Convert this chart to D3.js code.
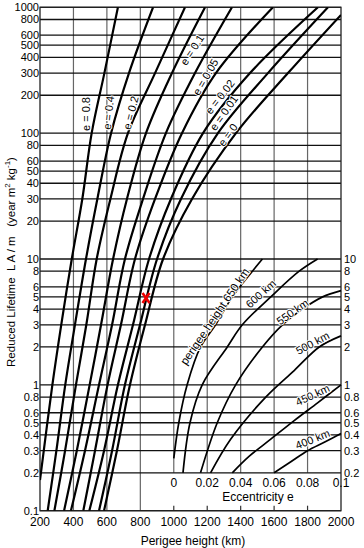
<!DOCTYPE html>
<html>
<head>
<meta charset="utf-8">
<script src="https://cdn.jsdelivr.net/npm/d3@7"></script>
<style>
body { margin: 0; background: #fff; }
text { font-family: "Liberation Sans", Arial, sans-serif; fill: #000; }
</style>
</head>
<body>
<svg id="chart" width="364" height="548"></svg>
<script>
// tick values
var lifeTicks = [1000, 800, 600, 500, 400, 300, 200, 100, 80, 60, 50, 40, 30, 20, 10, 8, 6, 5, 4, 3, 2, 1, 0.8, 0.6, 0.5, 0.4, 0.3, 0.2, 0.1];
var heightTicks = [200, 400, 600, 800, 1000, 1200, 1400, 1600, 1800, 2000];
var insetLifeTicks = [10, 8, 6, 5, 4, 3, 2, 1, 0.8, 0.6, 0.5, 0.4, 0.3, 0.2];
var eccTicks = [0, 0.02, 0.04, 0.06, 0.08, 0.1];

// main curves: [perigee height km, reduced lifetime]
var ecc08 = [[200, 0.175], [274, 1], [327, 3], [390, 10], [453, 30], [509, 100], [585, 300], [666, 1000]];
var ecc04 = [[246, 0.1], [298, 0.3], [351, 1], [409, 3], [475, 10], [543, 30], [625, 100], [732, 300], [876, 1000]];
var ecc02 = [[286, 0.1], [350, 0.3], [415, 1], [477, 3], [539, 10], [621, 30], [726, 100], [888, 300], [1067, 1000]];
var eccX = [[344, 0.1], [420, 0.3], [497, 1], [565, 3], [637, 10], [720, 30], [834, 100], [989, 300], [1187, 1000]];
var ecc01 = [[385, 0.1], [469, 0.3], [553, 1], [631, 3], [708, 10], [816, 30], [953, 100], [1127, 300], [1348, 1000]];
var ecc005 = [[459, 0.1], [529, 0.3], [604, 1], [684, 3], [768, 10], [888, 30], [1049, 100], [1252, 300], [1593, 1000]];
var ecc002 = [[495, 0.1], [583, 0.3], [666, 1], [756, 3], [852, 10], [983, 30], [1175, 100], [1456, 300], [1862, 1000]];
var ecc001 = [[553, 0.1], [631, 0.3], [708, 1], [798, 3], [900, 10], [1043, 30], [1264, 100], [1563, 300], [1922, 1000]];
var ecc0 = [[583, 0.1], [660, 0.3], [738, 1], [828, 3], [936, 10], [1109, 30], [1372, 100], [1683, 300], [2000, 870]];

// labels for the main curves: [text, height, lifetime, angle]
var eccLabels = [["e = 0.8", 475, 142, -90], ["e = 0.4", 610, 145, -84], ["e = 0.2", 744, 145, -76],
  ["e = 0.1", 1110, 458, -57], ["e = 0.05", 1190, 279, -60], ["e = 0.02", 1276, 194, -52],
  ["e = 0.01", 1300, 145, -55], ["e = 0", 1324, 97, -55]];

// inset curves: [eccentricity, reduced lifetime]
var per650 = [[0, 0.26], [0.003, 0.5], [0.008, 1], [0.016, 2], [0.025, 3], [0.035, 5], [0.047, 8], [0.053, 10]];
var per600 = [[0.0055, 0.2], [0.0097, 0.5], [0.017, 1], [0.032, 2], [0.041, 3], [0.058, 5], [0.075, 8], [0.086, 10]];
var per550 = [[0.016, 0.2], [0.026, 0.5], [0.037, 1], [0.053, 2], [0.065, 3], [0.077, 4], [0.089, 5], [0.1, 5.6]];
var per500 = [[0.022, 0.2], [0.034, 0.37], [0.055, 0.8], [0.072, 1.3], [0.087, 2], [0.1, 2.45]];
var per450 = [[0.035, 0.2], [0.045, 0.27], [0.058, 0.37], [0.072, 0.52], [0.086, 0.72], [0.1, 1.0]];
var per400 = [[0.06, 0.2], [0.07, 0.245], [0.08, 0.3], [0.09, 0.35], [0.1, 0.41]];

var perLabels = [["perigee height 650 km", 0.0245, 3.5, -56], ["600 km", 0.052, 5.3, -42], ["550 km", 0.071, 3.8, -35],
  ["500 km", 0.083, 2.15, -28], ["450 km", 0.083, 0.83, -25], ["400 km", 0.083, 0.37, -22]];

var marker = [834, 4.9];

var svg = d3.select("#chart");
var x = d3.scaleLinear().domain([200, 2000]).range([40, 341]);
var y = d3.scaleLog().domain([0.1, 1000]).range([510.7, 7.3]);
var xe = d3.scaleLinear().domain([0, 0.1]).range([x(1000), x(2000)]);

svg.append("rect").attr("width", 364).attr("height", 548).attr("fill", "#fff");

svg.append("clipPath").attr("id", "plot")
  .append("rect").attr("x", x(200)).attr("y", y(1000))
  .attr("width", x(2000) - x(200)).attr("height", y(0.1) - y(1000));

// grid
svg.append("g").selectAll("line").data(heightTicks.slice(1, -1)).join("line")
  .attr("x1", function(d) { return x(d); }).attr("x2", function(d) { return x(d); })
  .attr("y1", y(1000)).attr("y2", function(d) { return d >= 1000 ? y(0.2) : y(0.1); })
  .attr("stroke", "#666").attr("stroke-width", 1.2);
svg.append("g").selectAll("line").data(heightTicks.slice(4, -1)).join("line")
  .attr("x1", function(d) { return x(d); }).attr("x2", function(d) { return x(d); })
  .attr("y1", y(0.1) - 5).attr("y2", y(0.1))
  .attr("stroke", "#333").attr("stroke-width", 1.2);
svg.append("g").selectAll("line").data(lifeTicks).join("line")
  .attr("x1", x(200)).attr("x2", x(2000))
  .attr("y1", function(d) { return y(d); }).attr("y2", function(d) { return y(d); })
  .attr("stroke", "#111").attr("stroke-width", 1.3);
svg.append("rect").attr("x", x(200)).attr("y", y(1000))
  .attr("width", x(2000) - x(200)).attr("height", y(0.1) - y(1000))
  .attr("fill", "none").attr("stroke", "#222").attr("stroke-width", 1.3);

// main curves
var line = d3.line().x(function(d) { return x(d[0]); }).y(function(d) { return y(d[1]); })
  .curve(d3.curveCatmullRom.alpha(0.5));
svg.append("g").attr("clip-path", "url(#plot)").selectAll("path")
  .data([ecc08, ecc04, ecc02, eccX, ecc01, ecc005, ecc002, ecc001, ecc0]).join("path")
  .attr("d", line).attr("fill", "none").attr("stroke", "#000").attr("stroke-width", 2.2);

// inset curves
var insetLine = d3.line().x(function(d) { return xe(d[0]); }).y(function(d) { return y(d[1]); })
  .curve(d3.curveCatmullRom.alpha(0.5));
svg.append("g").selectAll("path")
  .data([per650, per600, per550, per500, per450, per400]).join("path")
  .attr("d", insetLine).attr("fill", "none").attr("stroke", "#000").attr("stroke-width", 1.7);

// curve labels
svg.append("g").selectAll("text").data(eccLabels).join("text")
  .attr("transform", function(d) { return "translate(" + x(d[1]) + "," + y(d[2]) + ") rotate(" + d[3] + ")"; })
  .attr("text-anchor", "middle").attr("dy", "0.35em").attr("font-size", 11)
  .attr("stroke", "#fff").attr("stroke-width", 2).attr("paint-order", "stroke")
  .text(function(d) { return d[0]; });
svg.append("g").selectAll("text").data(perLabels).join("text")
  .attr("transform", function(d) { return "translate(" + xe(d[1]) + "," + y(d[2]) + ") rotate(" + d[3] + ")"; })
  .attr("text-anchor", "middle").attr("dy", "0.35em").attr("font-size", function(d, i) { return i ? 11 : 11.5; })
  .attr("stroke", "#fff").attr("stroke-width", 2).attr("paint-order", "stroke")
  .text(function(d) { return d[0]; });

// axis labels
svg.append("g").selectAll("text").data(lifeTicks).join("text")
  .attr("x", 39).attr("y", function(d) { return y(d); }).attr("dy", "0.35em")
  .attr("text-anchor", "end").attr("font-size", 11).text(function(d) { return d; });
svg.append("g").selectAll("text").data(insetLifeTicks).join("text")
  .attr("x", 344).attr("y", function(d) { return y(d); }).attr("dy", "0.35em")
  .attr("font-size", 11).text(function(d) { return d; });
svg.append("g").selectAll("text").data(heightTicks).join("text")
  .attr("x", function(d) { return x(d); }).attr("y", 526)
  .attr("text-anchor", "middle").attr("font-size", 12).text(function(d) { return d; });
svg.append("g").selectAll("text").data(eccTicks).join("text")
  .attr("x", function(d) { return xe(d); }).attr("y", 487)
  .attr("text-anchor", "middle").attr("font-size", 12).text(function(d) { return d; });
svg.append("text").attr("x", 258).attr("y", 501).attr("text-anchor", "middle")
  .attr("font-size", 12).text("Eccentricity e");
svg.append("text").attr("x", 193).attr("y", 545).attr("text-anchor", "middle")
  .attr("font-size", 12).text("Perigee height (km)");

var title = svg.append("text").attr("transform", "translate(15,262) rotate(-90)")
  .attr("text-anchor", "middle").attr("font-size", 11.5).attr("xml:space", "preserve");
title.append("tspan").text("Reduced Lifetime  L A / m   (year m");
title.append("tspan").attr("dy", -5).attr("font-size", 8).text("2");
title.append("tspan").attr("dy", 5).text(" kg");
title.append("tspan").attr("dy", -5).attr("font-size", 8).text("-1");
title.append("tspan").attr("dy", 5).text(")");

// red marker
var m = svg.append("g").attr("transform", "translate(" + x(marker[0]) + "," + y(marker[1]) + ")");
m.append("line").attr("x1", -3.5).attr("y1", -5).attr("x2", 3.5).attr("y2", 5).attr("stroke", "#e00").attr("stroke-width", 2.6);
m.append("line").attr("x1", 3.5).attr("y1", -5).attr("x2", -3.5).attr("y2", 5).attr("stroke", "#e00").attr("stroke-width", 2.6);
</script>
</body>
</html>
